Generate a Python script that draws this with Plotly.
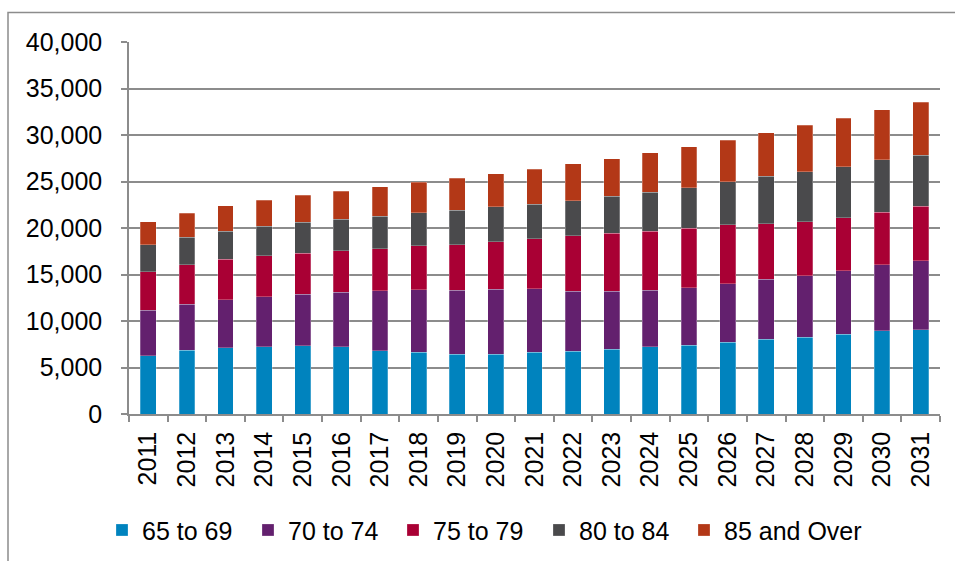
import plotly.graph_objects as go

years = [str(y) for y in range(2011, 2032)]
age_65_69 = [6260, 6870, 7150, 7230, 7330, 7230, 6820, 6620, 6440, 6440, 6620, 6730, 6940, 7220, 7390, 7710, 8040, 8250, 8570, 8930, 9070]
age_70_74 = [4900, 4940, 5150, 5370, 5540, 5870, 6460, 6760, 6870, 6980, 6870, 6480, 6260, 6080, 6210, 6320, 6430, 6640, 6860, 7140, 7430]
age_75_79 = [4110, 4260, 4330, 4400, 4440, 4440, 4490, 4690, 4900, 5080, 5370, 5940, 6230, 6340, 6390, 6320, 6000, 5790, 5680, 5640, 5860]
age_80_84 = [2930, 2930, 3010, 3180, 3290, 3400, 3510, 3580, 3690, 3760, 3690, 3790, 3970, 4180, 4320, 4610, 5110, 5390, 5460, 5610, 5460]
age_85_plus = [2470, 2610, 2750, 2830, 2930, 3010, 3150, 3290, 3440, 3580, 3790, 3970, 4050, 4250, 4430, 4500, 4680, 5000, 5250, 5390, 5680]

series_names = ["65 to 69", "70 to 74", "75 to 79", "80 to 84", "85 and Over"]
series_values = [age_65_69, age_70_74, age_75_79, age_80_84, age_85_plus]
colors = ["#0083BE", "#63206E", "#A90034", "#4A4A4C", "#B33817"]

FAM = "Liberation Sans, Arial, sans-serif"
font = dict(family=FAM, size=25, color="#000000")
L, R, T, B = 129, 15, 41.5, 146.5
PW = 955 - L - R
PH = 561 - T - B

# legend square left positions (px) in the reference
legend_px = [120, 266, 411, 557, 702]
legend_ids = ["legend", "legend2", "legend3", "legend4", "legend5"]

fig = go.Figure()
for name, vals, col, lid in zip(series_names, series_values, colors, legend_ids):
    fig.add_trace(go.Bar(x=years, y=vals, name=name, legend=lid,
                         marker=dict(color=col, line=dict(color="rgba(255,255,255,0.5)", width=0.5))))

legend_layout = {}
for lid, px in zip(legend_ids, legend_px):
    legend_layout[lid] = dict(orientation="h", x=(px - 18 - L) / PW, xanchor="left",
                              y=(T + PH - 531) / PH, yanchor="middle",
                              font=dict(size=25, family=FAM, color="#000"),
                              bgcolor="rgba(0,0,0,0)", itemwidth=30)

fig.update_layout(
    barmode="stack",
    bargap=0.59,
    width=955, height=561,
    margin=dict(l=L, r=R, t=T, b=B, autoexpand=False),
    plot_bgcolor="white", paper_bgcolor="white",
    font=font,
    showlegend=True,
    xaxis=dict(type="category", tickangle=-90, showline=True, linecolor="#8c8c8c", linewidth=1.5,
               ticks="outside", tickson="boundaries", ticklen=6, tickcolor="#8c8c8c", tickwidth=1.5,
               showgrid=False, tickfont=font, ticklabelstandoff=6),
    yaxis=dict(range=[0, 40000], dtick=5000, tickformat=",", showline=True, linecolor="#8c8c8c", linewidth=1.5,
               ticks="outside", ticklen=6, tickcolor="#8c8c8c", tickwidth=1.5,
               showgrid=True, gridcolor="#8c8c8c", gridwidth=1.5, zeroline=False, tickfont=font,
               ticklabelstandoff=14),
    **legend_layout,
)
fig.add_shape(type="rect", xref="paper", yref="paper",
              x0=(8 - L) / PW, x1=(965 - L) / PW, y0=(T + PH - 575) / PH, y1=(T + PH - 12) / PH,
              line=dict(color="#8c8c8c", width=1.5), fillcolor="rgba(0,0,0,0)", layer="below")
fig.write_html("out.html", config={"displayModeBar": False},
               post_script="document.body.style.margin='0';")
